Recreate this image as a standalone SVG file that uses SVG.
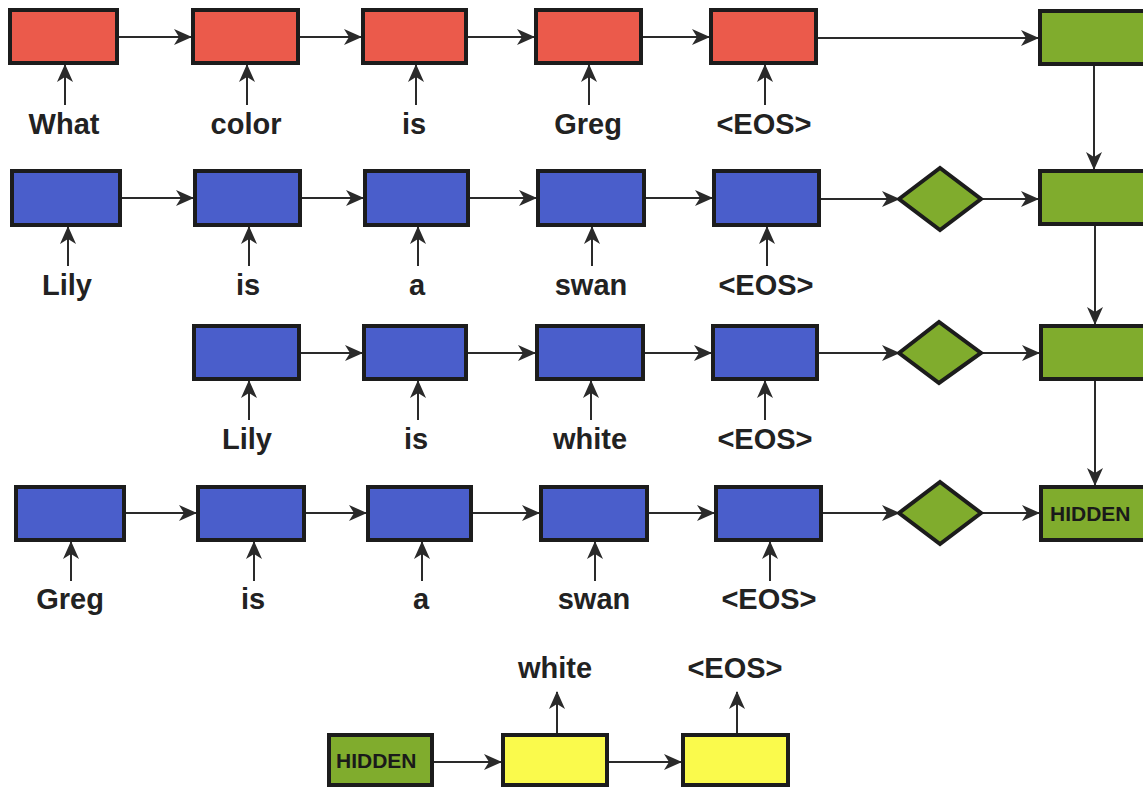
<svg xmlns="http://www.w3.org/2000/svg" width="1143" height="791" viewBox="0 0 1143 791">
<style>
.box{stroke:#1c1c1c;stroke-width:4}
.red{fill:#eb5a4b}
.blue{fill:#4a5ecb}
.green{fill:#80ac2d}
.yellow{fill:#fafa4c}
.lbl{font-family:"Liberation Sans",Arial,sans-serif;font-weight:bold;font-size:29px;fill:#222;text-anchor:middle}
.hid{font-family:"Liberation Sans",Arial,sans-serif;font-weight:bold;font-size:21px;fill:#1a1a1a}
.c{stroke:#2a2a2a;stroke-width:2;fill:none;marker-end:url(#ah)}
</style>
<defs>
<marker id="ah" markerUnits="userSpaceOnUse" viewBox="0 0 18 16" refX="17" refY="8" markerWidth="18" markerHeight="16" orient="auto">
<path d="M0,0 L18,8 L0,16 L5,8 Z" fill="#2a2a2a"/>
</marker>
</defs>
<rect width="1143" height="791" fill="#ffffff"/>

<g id="connectors">
<line class="c" x1="119" y1="37" x2="191" y2="37"/>
<line class="c" x1="300" y1="37" x2="361" y2="37"/>
<line class="c" x1="468" y1="37" x2="534" y2="37"/>
<line class="c" x1="643" y1="37" x2="709" y2="37"/>
<line class="c" x1="818" y1="38" x2="1038" y2="38"/>
<line class="c" x1="65" y1="105" x2="65" y2="65"/>
<line class="c" x1="247" y1="105" x2="247" y2="65"/>
<line class="c" x1="416" y1="105" x2="416" y2="65"/>
<line class="c" x1="589" y1="105" x2="589" y2="65"/>
<line class="c" x1="765" y1="105" x2="765" y2="65"/>
<line class="c" x1="122" y1="198" x2="193" y2="198"/>
<line class="c" x1="302" y1="198" x2="363" y2="198"/>
<line class="c" x1="470" y1="198" x2="536" y2="198"/>
<line class="c" x1="646" y1="198" x2="712" y2="198"/>
<line class="c" x1="821" y1="199" x2="899" y2="199"/>
<line class="c" x1="981" y1="199" x2="1038" y2="199"/>
<line class="c" x1="68" y1="266" x2="68" y2="227"/>
<line class="c" x1="249" y1="266" x2="249" y2="227"/>
<line class="c" x1="418" y1="266" x2="418" y2="227"/>
<line class="c" x1="592" y1="266" x2="592" y2="227"/>
<line class="c" x1="767" y1="266" x2="767" y2="227"/>
<line class="c" x1="301" y1="353" x2="362" y2="353"/>
<line class="c" x1="468" y1="353" x2="535" y2="353"/>
<line class="c" x1="645" y1="353" x2="711" y2="353"/>
<line class="c" x1="819" y1="353" x2="899" y2="353"/>
<line class="c" x1="981" y1="353" x2="1039" y2="353"/>
<line class="c" x1="249" y1="420" x2="249" y2="381"/>
<line class="c" x1="418" y1="420" x2="418" y2="381"/>
<line class="c" x1="591" y1="420" x2="591" y2="381"/>
<line class="c" x1="765" y1="420" x2="765" y2="381"/>
<line class="c" x1="126" y1="513" x2="196" y2="513"/>
<line class="c" x1="306" y1="513" x2="366" y2="513"/>
<line class="c" x1="473" y1="513" x2="539" y2="513"/>
<line class="c" x1="649" y1="513" x2="714" y2="513"/>
<line class="c" x1="823" y1="513" x2="899" y2="513"/>
<line class="c" x1="981" y1="513" x2="1039" y2="513"/>
<line class="c" x1="71" y1="581" x2="71" y2="542"/>
<line class="c" x1="254" y1="581" x2="254" y2="542"/>
<line class="c" x1="422" y1="581" x2="422" y2="542"/>
<line class="c" x1="595" y1="581" x2="595" y2="542"/>
<line class="c" x1="770" y1="581" x2="770" y2="542"/>
<line class="c" x1="1094" y1="66" x2="1094" y2="169"/>
<line class="c" x1="1095" y1="226" x2="1095" y2="324"/>
<line class="c" x1="1095" y1="381" x2="1095" y2="485"/>
<line class="c" x1="434" y1="762" x2="501" y2="762"/>
<line class="c" x1="609" y1="762" x2="681" y2="762"/>
<line class="c" x1="557" y1="733" x2="557" y2="692"/>
<line class="c" x1="737" y1="733" x2="737" y2="692"/>
</g>

<g id="q1"><rect class="box red" x="10" y="10" width="107" height="53"/></g>
<g id="q2"><rect class="box red" x="193" y="10" width="105" height="53"/></g>
<g id="q3"><rect class="box red" x="363" y="10" width="103" height="53"/></g>
<g id="q4"><rect class="box red" x="536" y="10" width="105" height="53"/></g>
<g id="q5"><rect class="box red" x="711" y="10" width="105" height="53"/></g>
<g id="g1"><rect class="box green" x="1040" y="11" width="120" height="53"/></g>
<g id="q-labels">
<text class="lbl" x="64" y="134">What</text>
<text class="lbl" x="246" y="134">color</text>
<text class="lbl" x="414" y="134">is</text>
<text class="lbl" x="588" y="134">Greg</text>
<text class="lbl" x="764" y="134">&lt;EOS&gt;</text>
</g>

<g id="s1a"><rect class="box blue" x="12" y="171" width="108" height="54"/></g>
<g id="s1b"><rect class="box blue" x="195" y="171" width="105" height="54"/></g>
<g id="s1c"><rect class="box blue" x="365" y="171" width="103" height="54"/></g>
<g id="s1d"><rect class="box blue" x="538" y="171" width="106" height="54"/></g>
<g id="s1e"><rect class="box blue" x="714" y="171" width="105" height="54"/></g>
<g id="d1"><polygon class="box green" points="899,199 940,168 981,199 940,230"/></g>
<g id="g2"><rect class="box green" x="1040" y="171" width="120" height="53"/></g>
<g id="s1-labels">
<text class="lbl" x="67" y="295">Lily</text>
<text class="lbl" x="248" y="295">is</text>
<text class="lbl" x="417" y="295">a</text>
<text class="lbl" x="591" y="295">swan</text>
<text class="lbl" x="766" y="295">&lt;EOS&gt;</text>
</g>

<g id="s2a"><rect class="box blue" x="194" y="326" width="105" height="53"/></g>
<g id="s2b"><rect class="box blue" x="364" y="326" width="102" height="53"/></g>
<g id="s2c"><rect class="box blue" x="537" y="326" width="106" height="53"/></g>
<g id="s2d"><rect class="box blue" x="713" y="326" width="104" height="53"/></g>
<g id="d2"><polygon class="box green" points="899,353 939,322 981,353 939,383"/></g>
<g id="g3"><rect class="box green" x="1041" y="326" width="120" height="53"/></g>
<g id="s2-labels">
<text class="lbl" x="247" y="449">Lily</text>
<text class="lbl" x="416" y="449">is</text>
<text class="lbl" x="590" y="449">white</text>
<text class="lbl" x="765" y="449">&lt;EOS&gt;</text>
</g>

<g id="s3a"><rect class="box blue" x="16" y="487" width="108" height="53"/></g>
<g id="s3b"><rect class="box blue" x="198" y="487" width="106" height="53"/></g>
<g id="s3c"><rect class="box blue" x="368" y="487" width="103" height="53"/></g>
<g id="s3d"><rect class="box blue" x="541" y="487" width="106" height="53"/></g>
<g id="s3e"><rect class="box blue" x="716" y="487" width="105" height="53"/></g>
<g id="d3"><polygon class="box green" points="899,513 940,482 981,513 940,544"/></g>
<g id="hidden1"><rect class="box green" x="1041" y="487" width="120" height="53"/><text class="hid" x="1050" y="521">HIDDEN</text></g>
<g id="s3-labels">
<text class="lbl" x="70" y="609">Greg</text>
<text class="lbl" x="253" y="609">is</text>
<text class="lbl" x="421" y="609">a</text>
<text class="lbl" x="594" y="609">swan</text>
<text class="lbl" x="769" y="609">&lt;EOS&gt;</text>
</g>

<g id="hidden2"><rect class="box green" x="329" y="735" width="103" height="50"/><text class="hid" x="336" y="768">HIDDEN</text></g>
<g id="y1"><rect class="box yellow" x="503" y="735" width="104" height="50"/></g>
<g id="y2"><rect class="box yellow" x="683" y="735" width="105" height="50"/></g>
<g id="out-labels">
<text class="lbl" x="555" y="678">white</text>
<text class="lbl" x="735" y="678">&lt;EOS&gt;</text>
</g>
</svg>
